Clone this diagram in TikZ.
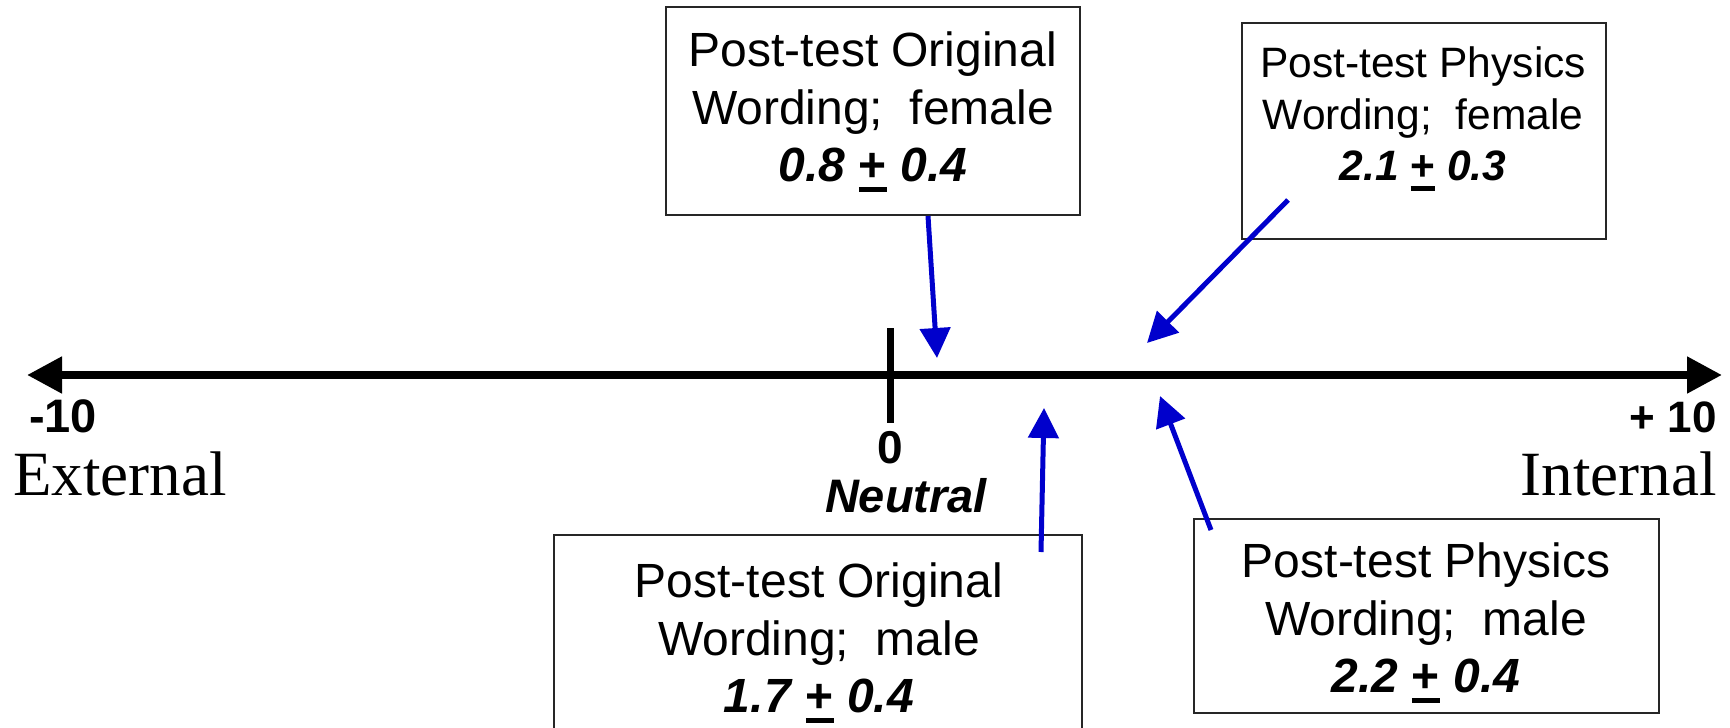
\documentclass[tikz,border=0pt]{standalone}
\usepackage{fontspec}
\setmainfont{Liberation Sans}
\newfontfamily\tnrfont{Liberation Serif}
\usetikzlibrary{arrows.meta,calc}
\definecolor{arrblue}{RGB}{0,0,204}
\newcommand\pmu{\vtop{\hbox{\bfseries +}\kern5pt\hrule height 5pt}}
\newcommand\bival[1]{\textbf{\textit{#1}}}
\begin{document}
\begin{tikzpicture}[x=1pt,y=-1pt,
  box/.style={draw=black!85, line width=2pt, inner sep=0pt},
  boxtext/.style={inner sep=0pt, anchor=north, align=center, font=\fontsize{48}{57.5}\selectfont},
  smalltext/.style={boxtext, font=\fontsize{42.5}{51.5}\selectfont},
  pointer/.style={draw=arrblue, line width=5pt, -{Triangle[length=30pt,width=30pt]}},
  axislab/.style={inner sep=0pt, font=\fontsize{44}{44}\selectfont\bfseries},
  endlab/.style={inner sep=0pt, font=\fontsize{63}{63}\selectfont\tnrfont}]
\useasboundingbox (0,0) rectangle (1730,728);
\clip (0,0) rectangle (1730,728);

% axis
\coordinate (L) at (27,375);
\coordinate (R) at (1722,375);
\draw[line width=8pt, {Triangle[length=35pt,width=35pt]}-{Triangle[length=35pt,width=35pt]}] (L) -- (R);
\coordinate (T0) at (890,328);
\coordinate (T1) at (890,423);
\draw[line width=7pt] (T0) -- (T1);

% axis labels
\node[axislab, anchor=base west, font=\fontsize{47}{47}\selectfont\bfseries] (m10) at (29,432) {-10};
\node[axislab, anchor=base east] (p10) at (1717,432) {+ 10};
\node[axislab, anchor=base, font=\fontsize{46}{46}\selectfont\bfseries] (zero) at (890,463) {0};
\node[inner sep=0pt, anchor=base, font=\fontsize{47}{47}\selectfont\bfseries\itshape] (neutral) at (906,512) {Neutral};
\node[endlab, anchor=base west] (ext) at (13,495) {External};
\node[endlab, anchor=base east] (int) at (1717,495) {Internal};

% boxes
\node[box, minimum width=414pt, minimum height=208pt] (b1) at (873,111) {};
\node[boxtext] (b1t) at (873,32) {Post-test Original\\Wording;\ \ female\\\bival{0.8} \pmu\ \bival{0.4}};

\node[box, minimum width=364pt, minimum height=216pt] (b2) at (1424,131) {};
\node[smalltext] (b2t) at (1423,47) {Post-test Physics\\Wording;\ \ female\\\bival{2.1} \pmu\ \bival{0.3}};

\node[box, minimum width=528pt, minimum height=208pt] (b3) at (818,639) {};
\node[boxtext] (b3t) at (819,563) {Post-test Original\\Wording;\ \ male\\\bival{1.7} \pmu\ \bival{0.4}};

\node[box, minimum width=465pt, minimum height=194pt] (b4) at (1426.5,616) {};
\node[boxtext] (b4t) at (1426,543) {Post-test Physics\\Wording;\ \ male\\\bival{2.2} \pmu\ \bival{0.4}};

% pointers
\coordinate (a1s) at ($(b1.south)+(55,0)$);
\coordinate (a1e) at (937,358);
\draw[pointer] (a1s) -- (a1e);
\coordinate (a2s) at (1288,200);
\coordinate (a2e) at (1147,343);
\draw[pointer] (a2s) -- (a2e);
\coordinate (a3s) at (1041,552);
\coordinate (a3e) at (1044,408);
\draw[pointer] (a3s) -- (a3e);
\coordinate (a4s) at (1211,530);
\coordinate (a4e) at (1160,396);
\draw[pointer] (a4s) -- (a4e);
\end{tikzpicture}
\end{document}
